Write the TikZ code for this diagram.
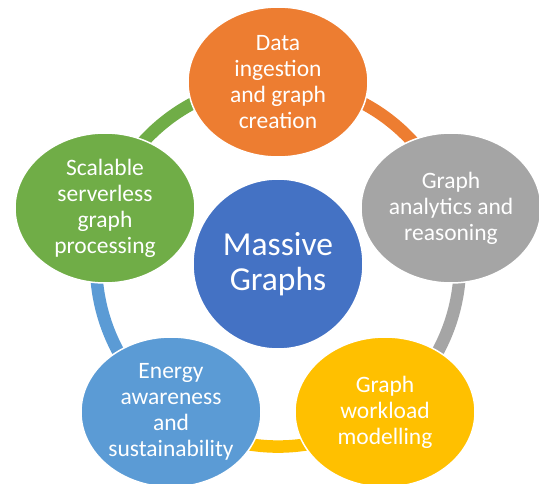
\documentclass[tikz,border=0pt]{standalone}
\usepackage{fontspec}
\setmainfont{Carlito}
\usetikzlibrary{shapes.geometric,backgrounds}
\definecolor{hubblue}{RGB}{68,114,196}
\definecolor{ingest}{RGB}{237,125,49}
\definecolor{reason}{RGB}{165,165,165}
\definecolor{workload}{RGB}{255,192,0}
\definecolor{energy}{RGB}{91,155,213}
\definecolor{scalable}{RGB}{112,173,71}
\tikzset{
  bubble/.style={ellipse, draw=white, line width=1.5pt, fill=#1, minimum width=180pt, minimum height=150pt,
    inner sep=0pt, align=center, text=white, font=\fontsize{23.5}{26}\selectfont},
  ring/.style={draw=#1, line width=12.5pt}
}

\begin{document}
\begin{tikzpicture}[x=1pt,y=1pt]
\clip (0,0) rectangle (539,483);
% centre
\node[circle, fill=hubblue, draw=white, line width=1.5pt, minimum size=170pt, inner sep=0pt, align=center,
  text=white, font=\fontsize{33.5}{35}\selectfont] (hub) at (278,219) {Massive\\Graphs};
% the five topics, clockwise from the top
\node[bubble=ingest] (data) at (278,401) {Data\\ingestion\\and graph\\creation};
\node[bubble=reason] (analytics) at (451,275) {Graph\\analytics and\\reasoning};
\node[bubble=workload] (model) at (385,71) {Graph\\workload\\modelling};
\node[bubble=energy] (green) at (171,71) {Energy\\awareness\\and\\sustainability};
\node[bubble=scalable] (serverless) at (105,275) {Scalable\\serverless\\graph\\processing};
% ring behind them
\begin{pgfonlayer}{background}
\draw[ring=ingest] (data.center) to[bend left=36, looseness=0.94] (analytics.center);
\draw[ring=reason] (analytics.center) to[bend left=36, looseness=0.94] (model.center);
\draw[ring=workload] (model.center) to[bend left=36, looseness=0.94] (green.center);
\draw[ring=energy] (green.center) to[bend left=36, looseness=0.94] (serverless.center);
\draw[ring=scalable] (serverless.center) to[bend left=36, looseness=0.94] (data.center);
\end{pgfonlayer}
\end{tikzpicture}
\end{document}
